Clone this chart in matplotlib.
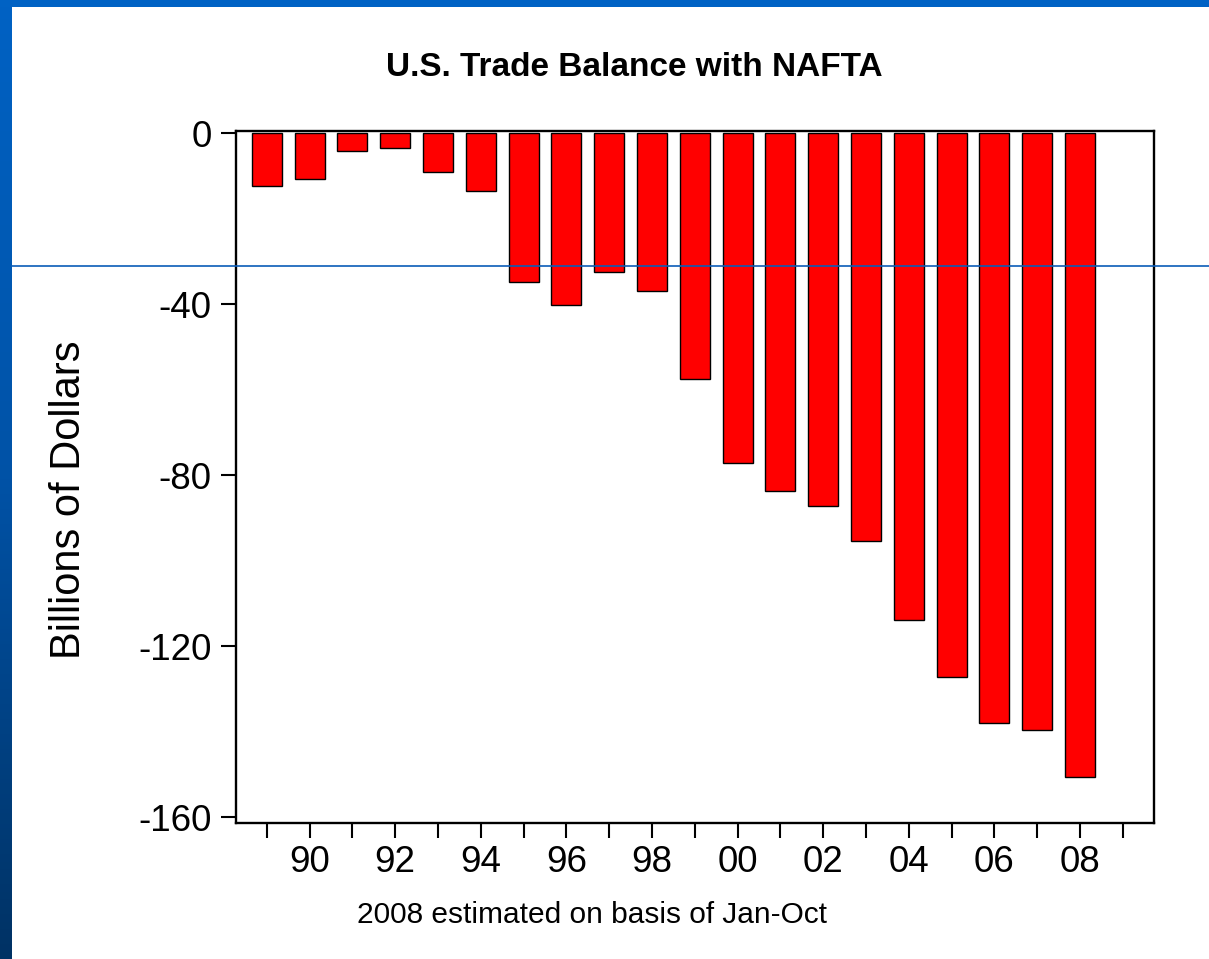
import numpy as np
import matplotlib
matplotlib.use("Agg")
import matplotlib.pyplot as plt
from matplotlib.colors import LinearSegmentedColormap

years = list(range(1989, 2009))
balance = [-12.5, -10.8, -4.1, -3.6, -9.1, -13.6, -34.8, -40.3, -32.6, -37.0,
           -57.6, -77.1, -83.7, -87.2, -95.5, -114.0, -127.3, -137.9, -139.6, -150.7]
tick_years = list(range(1989, 2010))
label_years = list(range(1990, 2010, 2))
yticks = [0, -40, -80, -120, -160]

W, H = 1209, 959


def main():
    plt.rcParams['font.family'] = ['Liberation Sans', 'DejaVu Sans']
    fig = plt.figure(figsize=(W / 100, H / 100), dpi=100)
    fig.patch.set_facecolor('white')

    # slide frame: blue strip on the left (gradient) and on top
    cmap = LinearSegmentedColormap.from_list('slide', ['#0062C4', '#0052A6', '#003264'])
    strip = fig.add_axes([0, 0, 12 / W, 1])
    strip.imshow(np.linspace(0, 1, 256).reshape(-1, 1), aspect='auto', cmap=cmap)
    strip.axis('off')
    top = fig.add_axes([0, 1 - 7 / H, 1, 7 / H])
    top.set_facecolor('#0062C4')
    top.set_xticks([])
    top.set_yticks([])
    for s in top.spines.values():
        s.set_visible(False)

    ax = fig.add_axes([236 / W, 1 - 823 / H, (1154 - 236) / W, (823 - 131) / H])
    ax.bar(years, balance, width=0.7, color='#FF0000', edgecolor='black', linewidth=1.0)
    ax.set_xlim(1988.28, 2009.73)
    ax.set_ylim(-161.4, 0.47)

    ax.set_xticks(tick_years)
    ax.set_xticklabels([('%02d' % (y % 100)) if y in label_years and y <= 2008 else '' for y in tick_years])
    ax.set_yticks(yticks)
    ax.set_yticklabels([str(v) for v in yticks])
    ax.tick_params(axis='both', direction='out', length=11, width=1.5, labelsize=26.5, color='black')
    ax.tick_params(axis='x', pad=5)
    ax.tick_params(axis='y', pad=6.5)
    for s in ax.spines.values():
        s.set_linewidth(1.7)

    fig.text(69 / W, 1 - 500 / H, 'Billions of Dollars', fontsize=30, rotation=90,
             ha='center', va='center')
    fig.text(634 / W, 1 - 67 / H, 'U.S. Trade Balance with NAFTA', fontsize=24,
             fontweight='bold', ha='center', va='center')
    fig.text(592 / W, 1 - 915 / H, '2008 estimated on basis of Jan-Oct', fontsize=21.5,
             ha='center', va='center')

    # thin blue line from the slide template crossing the chart
    fig.add_artist(plt.Line2D([12 / W, 1], [1 - 266 / H, 1 - 266 / H],
                              transform=fig.transFigure, color='#0A5CB8', linewidth=1.2))

    fig.savefig('out.png', dpi=100)


if __name__ == "__main__":
    main()
